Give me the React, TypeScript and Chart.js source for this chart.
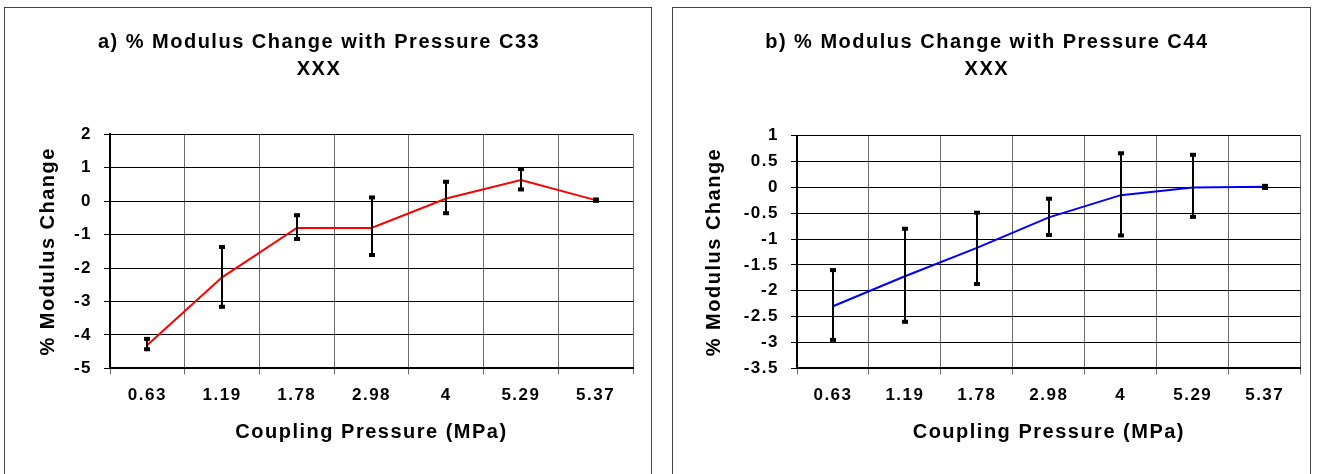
import React, { useEffect, useRef } from 'react';
import { Chart, registerables } from 'chart.js';

Chart.register(...registerables);

const categories = ['0.63', '1.19', '1.78', '2.98', '4', '5.29', '5.37'];

const c33Values = [-4.3, -2.28, -0.8, -0.8, 0.08, 0.63, 0.03];
const c33High = [-4.12, -1.37, -0.42, 0.11, 0.58, 0.96, 0.05];
const c33Low = [-4.43, -3.16, -1.13, -1.61, -0.36, 0.35, 0.01];
const c33Ticks = [2, 1, 0, -1, -2, -3, -4, -5];

const c44Values = [-2.3, -1.72, -1.17, -0.58, -0.15, 0, 0.01];
const c44High = [-1.6, -0.8, -0.49, -0.22, 0.66, 0.63, 0.03];
const c44Low = [-2.95, -2.6, -1.87, -0.92, -0.93, -0.57, -0.01];
const c44Ticks = [1, 0.5, 0, -0.5, -1, -1.5, -2, -2.5, -3, -3.5];

const titleA = ['a) % Modulus Change with Pressure C33', 'XXX'];
const titleB = ['b) % Modulus Change with Pressure C44', 'XXX'];
const xTitle = 'Coupling Pressure (MPa)';
const yTitle = '% Modulus Change';

const FONT = '"Liberation Sans", Arial, Helvetica, sans-serif';
const SPACING = '1.5px';

const letterSpacingPlugin = {
  id: 'letterSpacing',
  afterInit(c: any) { c.ctx.letterSpacing = SPACING; },
  beforeUpdate(c: any) { c.ctx.letterSpacing = SPACING; },
  beforeDraw(c: any) { c.ctx.letterSpacing = SPACING; },
};

const errorBarPlugin = {
  id: 'errorBars',
  afterDatasetsDraw(chart: any, _args: any, opts: any) {
    const { ctx, scales } = chart;
    const xs = scales.x;
    const ys = scales.y;
    const high: number[] = opts.high || [];
    const low: number[] = opts.low || [];
    ctx.save();
    ctx.strokeStyle = '#000';
    ctx.fillStyle = '#000';
    ctx.lineWidth = 2;
    high.forEach((h, i) => {
      const px = Math.round(xs.getPixelForValue(i));
      const p1 = ys.getPixelForValue(h);
      const p2 = ys.getPixelForValue(low[i]);
      ctx.beginPath();
      ctx.moveTo(px, p1);
      ctx.lineTo(px, p2);
      ctx.stroke();
      ctx.fillRect(px - 3, p1 - 2, 6, 4);
      ctx.fillRect(px - 3, p2 - 2, 6, 4);
    });
    ctx.restore();
  },
};

type PanelProps = {
  left: number;
  top: number;
  width: number;
  height: number;
  title: string[];
  values: number[];
  high: number[];
  low: number[];
  color: string;
  yTicks: number[];
  yWidth: number;
  padRight: number;
  titlePadBottom: number;
  yTitlePad: number;
};

function ChartPanel(p: PanelProps) {
  const ref = useRef<HTMLCanvasElement | null>(null);

  useEffect(() => {
    if (!ref.current) return;
    const yMax = Math.max(...p.yTicks);
    const yMin = Math.min(...p.yTicks);
    const chart = new Chart(ref.current, {
      type: 'line',
      data: {
        labels: categories,
        datasets: [
          {
            data: p.values,
            borderColor: p.color,
            backgroundColor: p.color,
            borderWidth: 2,
            pointRadius: 0,
            tension: 0,
            fill: false,
          },
        ],
      },
      plugins: [letterSpacingPlugin, errorBarPlugin],
      options: {
        animation: false,
        responsive: false,
        maintainAspectRatio: false,
        devicePixelRatio: 1,
        layout: { padding: { left: 0, right: p.padRight, top: 0, bottom: 0 } },
        plugins: {
          legend: { display: false },
          tooltip: { enabled: false },
          title: {
            display: true,
            text: p.title,
            color: '#000',
            font: { family: FONT, size: 20, weight: 'bold', lineHeight: 27 / 20 },
            padding: { top: 20.5, bottom: p.titlePadBottom },
          },
          errorBars: { high: p.high, low: p.low },
        } as any,
        scales: {
          x: {
            type: 'category',
            offset: true,
            afterFit: (s: any) => { s.height = p.height - 360.3; },
            grid: {
              display: true,
              offset: true,
              color: '#6a6a6a',
              lineWidth: 1,
              tickLength: 6,
              tickColor: '#6a6a6a',
              drawOnChartArea: true,
            },
            border: { display: true, color: '#000', width: 2 },
            ticks: {
              color: '#000',
              font: { family: FONT, size: 17, weight: 'bold' },
              padding: 10.5,
              maxRotation: 0,
              autoSkip: false,
            },
            title: {
              display: true,
              text: xTitle,
              color: '#000',
              font: { family: FONT, size: 20, weight: 'bold', lineHeight: 1.2 },
              padding: { top: 0, bottom: 30 },
            },
          },
          y: {
            type: 'linear',
            min: yMin,
            max: yMax,
            afterBuildTicks: (s: any) => {
              s.ticks = p.yTicks.map((v) => ({ value: v }));
            },
            afterFit: (s: any) => { s.width = p.yWidth; },
            grid: {
              display: true,
              color: '#000',
              lineWidth: 1,
              tickLength: 6,
              tickColor: '#000',
            },
            border: { display: true, color: '#000', width: 2 },
            ticks: {
              color: '#000',
              font: { family: FONT, size: 17, weight: 'bold' },
              padding: 12,
              callback: (v: any) => String(v),
            },
            title: {
              display: true,
              text: yTitle,
              color: '#000',
              font: { family: FONT, size: 20, weight: 'bold', lineHeight: 1.2 },
              padding: { top: p.yTitlePad, bottom: 0 },
            },
          },
        },
      } as any,
    });
    return () => chart.destroy();
  }, []);

  return (
    <div
      style={{
        position: 'absolute',
        left: p.left,
        top: p.top,
        width: p.width,
        height: p.height + 6,
        border: '1px solid #444',
        background: '#fff',
      }}
    >
      <canvas ref={ref} width={p.width} height={p.height} style={{ display: 'block' }} />
    </div>
  );
}

export default function App() {
  return (
    <div
      style={{
        position: 'fixed',
        left: 0,
        top: 0,
        width: 1317,
        height: 474,
        overflow: 'hidden',
        background: '#fff',
      }}
    >
      <ChartPanel
        left={4}
        top={7}
        width={646}
        height={466}
        title={titleA}
        values={c33Values}
        high={c33High}
        low={c33Low}
        color="#ff0000"
        yTicks={c33Ticks}
        yWidth={105}
        padRight={18}
        titlePadBottom={51.8}
        yTitlePad={31}
      />
      <ChartPanel
        left={672}
        top={7}
        width={637}
        height={466}
        title={titleB}
        values={c44Values}
        high={c44High}
        low={c44Low}
        color="#0000ff"
        yTicks={c44Ticks}
        yWidth={124}
        padRight={9.3}
        titlePadBottom={53.2}
        yTitlePad={29}
      />
    </div>
  );
}
